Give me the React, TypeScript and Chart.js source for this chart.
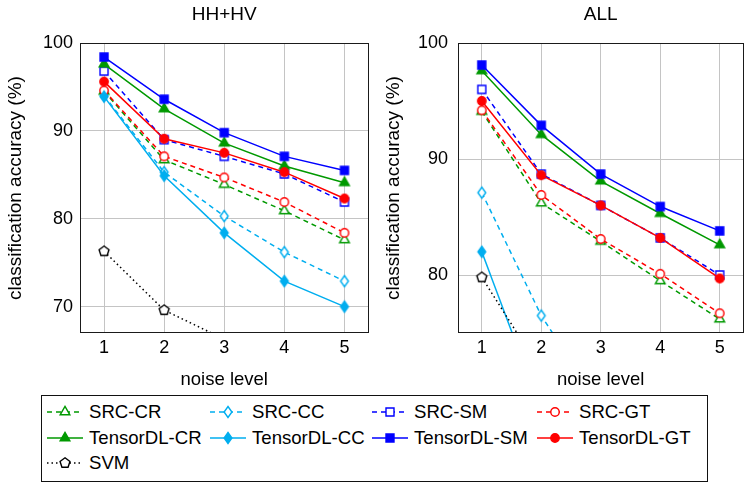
import React, { useEffect, useRef } from 'react';
import { Chart, registerables } from 'chart.js';

Chart.register(...registerables);

const FONT = "'Liberation Sans', Arial, sans-serif";

// ---------- data ----------
const noiseLevels = [1, 2, 3, 4, 5];
const seriesNames = [
  'SRC-CR', 'SRC-CC', 'SRC-SM', 'SRC-GT',
  'TensorDL-CR', 'TensorDL-CC', 'TensorDL-SM', 'TensorDL-GT',
  'SVM',
];

// HH+HV panel
const hhhvSrcCR = [94.5, 86.7, 83.9, 80.9, 77.6];
const hhhvSrcCC = [94.0, 85.3, 80.3, 76.2, 72.9];
const hhhvSrcSM = [96.8, 89.0, 87.1, 85.1, 81.9];
const hhhvSrcGT = [94.6, 87.1, 84.7, 81.9, 78.4];
const hhhvTdlCR = [97.6, 92.5, 88.6, 86.0, 84.1];
const hhhvTdlCC = [93.9, 84.9, 78.4, 72.9, 70.0];
const hhhvTdlSM = [98.4, 93.6, 89.8, 87.1, 85.5];
const hhhvTdlGT = [95.6, 89.1, 87.5, 85.3, 82.3];
const hhhvSVM = [76.3, 69.6, 66.3, null, null];

// ALL panel
const allSrcCR = [94.1, 86.2, 82.9, 79.5, 76.2];
const allSrcCC = [87.1, 76.5, 68.6, null, null];
const allSrcSM = [96.0, 88.7, 86.0, 83.2, 80.0];
const allSrcGT = [94.2, 86.9, 83.1, 80.1, 76.7];
const allTdlCR = [97.6, 92.1, 88.1, 85.3, 82.6];
const allTdlCC = [82.0, 68.3, null, null, null];
const allTdlSM = [98.1, 92.9, 88.7, 85.9, 83.8];
const allTdlGT = [95.0, 88.6, 86.0, 83.2, 79.7];
const allSVM = [79.8, 71.7, null, null, null];

const hhhvSeries = [hhhvSrcCR, hhhvSrcCC, hhhvSrcSM, hhhvSrcGT, hhhvTdlCR, hhhvTdlCC, hhhvTdlSM, hhhvTdlGT, hhhvSVM];
const allSeries = [allSrcCR, allSrcCC, allSrcSM, allSrcGT, allTdlCR, allTdlCC, allTdlSM, allTdlGT, allSVM];

// ---------- styles ----------
const GREEN = '#009900';
const CYAN = '#00aeef';
const BLUE = '#0000ff';
const RED = '#ff0000';
const BLACK = '#000000';
const GRID = '#c4c4c4';
const DASH = [5, 4];
const DOT = [1.5, 3];

type Shape = 'triangle' | 'diamond' | 'square' | 'circle' | 'pentagon';
interface SeriesStyle { color: string; shape: Shape; filled: boolean; dash: number[]; }

const seriesStyles: SeriesStyle[] = [
  { color: GREEN, shape: 'triangle', filled: false, dash: DASH },
  { color: CYAN, shape: 'diamond', filled: false, dash: DASH },
  { color: BLUE, shape: 'square', filled: false, dash: DASH },
  { color: RED, shape: 'circle', filled: false, dash: DASH },
  { color: GREEN, shape: 'triangle', filled: true, dash: [] },
  { color: CYAN, shape: 'diamond', filled: true, dash: [] },
  { color: BLUE, shape: 'square', filled: true, dash: [] },
  { color: RED, shape: 'circle', filled: true, dash: [] },
  { color: BLACK, shape: 'pentagon', filled: false, dash: DOT },
];

function drawMarker(ctx: CanvasRenderingContext2D, cx: number, cy: number, st: SeriesStyle) {
  ctx.save();
  ctx.setLineDash([]);
  ctx.beginPath();
  switch (st.shape) {
    case 'square':
      ctx.rect(cx - 4, cy - 4, 8, 8);
      break;
    case 'circle':
      ctx.arc(cx, cy, 4.2, 0, Math.PI * 2);
      break;
    case 'triangle': {
      const r = 5.6;
      ctx.moveTo(cx, cy - r);
      ctx.lineTo(cx + r * 0.866, cy + r * 0.5);
      ctx.lineTo(cx - r * 0.866, cy + r * 0.5);
      ctx.closePath();
      break;
    }
    case 'diamond':
      ctx.moveTo(cx, cy - 5.5);
      ctx.lineTo(cx + 3.9, cy);
      ctx.lineTo(cx, cy + 5.5);
      ctx.lineTo(cx - 3.9, cy);
      ctx.closePath();
      break;
    case 'pentagon': {
      const r = 5.2;
      for (let k = 0; k < 5; k++) {
        const a = -Math.PI / 2 + (k * 2 * Math.PI) / 5;
        const px = cx + r * Math.cos(a);
        const py = cy + r * Math.sin(a);
        if (k === 0) ctx.moveTo(px, py); else ctx.lineTo(px, py);
      }
      ctx.closePath();
      break;
    }
  }
  ctx.fillStyle = st.filled ? st.color : '#ffffff';
  ctx.fill();
  ctx.lineWidth = 1.4;
  ctx.strokeStyle = st.color;
  ctx.stroke();
  ctx.restore();
}

function markerCanvas(st: SeriesStyle): HTMLCanvasElement {
  const c = document.createElement('canvas');
  c.width = 18;
  c.height = 18;
  const ctx = c.getContext('2d')!;
  drawMarker(ctx, 9, 9, st);
  return c;
}

const framePlugin = {
  id: 'frame',
  afterDatasetsDraw(chart: any) {
    const { ctx, chartArea } = chart;
    const { left, top, right, bottom } = chartArea;
    ctx.save();
    ctx.strokeStyle = '#1a1a1a';
    ctx.lineWidth = 1;
    ctx.setLineDash([]);
    ctx.strokeRect(Math.round(left) + 0.5, Math.round(top) + 0.5, Math.round(right - left) - 1, Math.round(bottom - top) - 1);
    ctx.restore();
  },
};

function makeDatasets(series: (number | null)[][]) {
  return series.map((vals, i) => {
    const st = seriesStyles[i];
    return {
      label: seriesNames[i],
      data: noiseLevels.map((x, j) => ({ x, y: vals[j] })),
      borderColor: st.color,
      backgroundColor: st.color,
      borderWidth: 1.5,
      borderDash: st.dash,
      pointStyle: markerCanvas(st),
      pointRadius: 5,
      pointHoverRadius: 5,
      fill: false,
      tension: 0,
      order: series.length - i,
    };
  });
}

interface PanelProps {
  title: string;
  series: (number | null)[][];
  yMin: number;
  left: number;
  yAxisWidth: number;
  yTickPad: number;
  yTitlePad: number;
  rightPad: number;
}

function ChartPanel(p: PanelProps) {
  const ref = useRef<HTMLCanvasElement>(null);
  useEffect(() => {
    const font = { family: FONT, size: 18, weight: 'normal' as const };
    const titleFont = { family: FONT, size: 19, weight: 'normal' as const };
    const chart = new Chart(ref.current!, {
      type: 'line',
      data: { datasets: makeDatasets(p.series) as any },
      options: {
        animation: false,
        responsive: false,
        events: [],
        layout: { padding: { left: 0, right: p.rightPad, top: 0, bottom: 0 } },
        plugins: {
          legend: { display: false },
          tooltip: { enabled: false },
          title: {
            display: true,
            text: p.title,
            fullSize: false,
            color: '#000',
            font: titleFont,
            padding: { top: 3.4, bottom: 16.8 },
          },
        },
        scales: {
          x: {
            type: 'linear',
            min: 0.6,
            max: 5.4,
            ticks: { stepSize: 1, includeBounds: false, padding: 4, color: '#000', font },
            grid: { color: GRID, drawTicks: false, lineWidth: 1 },
            border: { display: false },
            title: { display: true, text: 'noise level', color: '#000', font: { family: FONT, size: 18.5, weight: 'normal' }, padding: { top: 0, bottom: 0 } },
            afterFit: (s: any) => { s.height = 58; },
          },
          y: {
            type: 'linear',
            min: p.yMin,
            max: 100,
            ticks: { stepSize: 10, includeBounds: false, padding: p.yTickPad, color: '#000', font },
            grid: { color: GRID, drawTicks: false, lineWidth: 1 },
            border: { display: false },
            title: { display: true, text: 'classification accuracy (%)', color: '#000', font: titleFont, padding: { top: p.yTitlePad, bottom: 0 } },
            afterFit: (s: any) => { s.width = p.yAxisWidth; },
          },
        },
      } as any,
      plugins: [framePlugin],
    });
    return () => chart.destroy();
  }, []);
  return (
    <canvas
      ref={ref}
      width={375}
      height={391}
      style={{ position: 'absolute', left: p.left, top: 0, width: 375, height: 391 }}
    />
  );
}

function LegendSample({ st }: { st: SeriesStyle }) {
  const ref = useRef<HTMLCanvasElement>(null);
  useEffect(() => {
    const ctx = ref.current!.getContext('2d')!;
    ctx.clearRect(0, 0, 36, 22);
    ctx.save();
    ctx.strokeStyle = st.color;
    ctx.lineWidth = 1.5;
    ctx.setLineDash(st.dash);
    ctx.beginPath();
    ctx.moveTo(0, 11);
    ctx.lineTo(36, 11);
    ctx.stroke();
    ctx.restore();
    drawMarker(ctx, 18, 11, st);
  }, []);
  return <canvas ref={ref} width={36} height={22} style={{ position: 'absolute', left: 0, top: 0, width: 36, height: 22 }} />;
}

const legendColX = [47, 210, 372, 537];
const legendRowY = [401, 427, 452];

function Legend() {
  return (
    <>
      <div
        style={{
          position: 'absolute', left: 41, top: 395, width: 667, height: 87,
          border: '1px solid #111', boxSizing: 'border-box', background: '#fff',
        }}
      />
      {seriesNames.map((name, i) => {
        const col = i % 4;
        const row = Math.floor(i / 4);
        return (
          <div
            key={name}
            style={{
              position: 'absolute', left: legendColX[col], top: legendRowY[row], height: 22,
              width: 165, fontFamily: FONT, fontSize: 18.6, lineHeight: '22px', color: '#000',
              whiteSpace: 'nowrap',
            }}
          >
            <LegendSample st={seriesStyles[i]} />
            <span style={{ position: 'absolute', left: 42, top: 0 }}>{name}</span>
          </div>
        );
      })}
    </>
  );
}

export default function App() {
  return (
    <div style={{ position: 'absolute', left: 0, top: 0, width: 750, height: 482, background: '#fff', overflow: 'hidden' }}>
      <ChartPanel title="HH+HV" series={hhhvSeries} yMin={67} left={0} yAxisWidth={80} yTickPad={7} yTitlePad={4.5} rightPad={5} />
      <ChartPanel title="ALL" series={allSeries} yMin={75} left={375} yAxisWidth={83} yTickPad={10} yTitlePad={7.5} rightPad={2} />
      <Legend />
    </div>
  );
}
